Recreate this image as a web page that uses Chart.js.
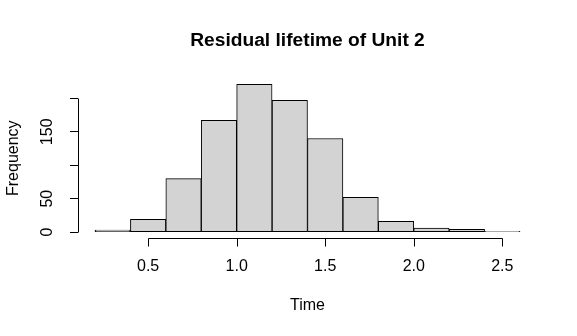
<!DOCTYPE html>
<html>
<head>
<meta charset="utf-8">
<script src="https://cdn.jsdelivr.net/npm/chart.js@4/dist/chart.umd.min.js"></script>
<style>
  html, body { margin: 0; padding: 0; background: #ffffff; }
  #wrap { width: 577px; height: 336px; }
</style>
</head>
<body>
<div id="wrap"><canvas id="c" width="577" height="336"></canvas></div>
<script>
// Histogram data (bin midpoints, bin width 0.2) and counts
const binMids = [0.3, 0.5, 0.7, 0.9, 1.1, 1.3, 1.5, 1.7, 1.9, 2.1, 2.3, 2.5];
const counts  = [3, 19, 80, 167, 221, 197, 140, 52, 16, 6, 4, 1];
const xTicks  = [0.5, 1.0, 1.5, 2.0, 2.5];
const xTickLabels = ['0.5', '1.0', '1.5', '2.0', '2.5'];
const yTicks  = [0, 50, 100, 150, 200];
const yTickLabels = ['0', '50', '', '150', ''];
const titleText = 'Residual lifetime of Unit 2';
const xTitle = 'Time';
const yTitle = 'Frequency';

const FONT = 'Liberation Sans, Arial, sans-serif';

// R-style axes: axis lines only across the tick range, x tick marks below
const rAxes = {
  id: 'rAxes',
  afterDraw(chart) {
    const ctx = chart.ctx;
    const xs = chart.scales.x, ys = chart.scales.y, area = chart.chartArea;
    ctx.save();
    ctx.strokeStyle = '#000000';
    ctx.lineWidth = 1;
    const yb = Math.round(area.bottom) + 0.5;
    ctx.beginPath();
    ctx.moveTo(Math.round(xs.getPixelForValue(xTicks[0])) + 0.5, yb);
    ctx.lineTo(Math.round(xs.getPixelForValue(xTicks[xTicks.length - 1])) + 0.5, yb);
    xs.ticks.forEach(t => {
      const px = Math.round(xs.getPixelForValue(t.value)) + 0.5;
      ctx.moveTo(px, yb);
      ctx.lineTo(px, yb + 8);
    });
    ctx.stroke();
    const xl = Math.round(area.left) + 0.5;
    ctx.beginPath();
    ctx.moveTo(xl, Math.round(ys.getPixelForValue(yTicks[0])) + 0.5);
    ctx.lineTo(xl, Math.round(ys.getPixelForValue(yTicks[yTicks.length - 1])) + 0.5);
    ctx.stroke();
    ctx.restore();
  }
};

new Chart(document.getElementById('c'), {
  type: 'bar',
  data: {
    datasets: [{
      data: binMids.map((m, i) => ({x: m, y: counts[i]})),
      backgroundColor: '#D3D3D3',
      borderColor: '#000000',
      borderWidth: 1,
      borderSkipped: false,
      barPercentage: 1.0,
      categoryPercentage: 1.0,
      grouped: false
    }]
  },
  options: {
    responsive: false,
    animation: false,
    devicePixelRatio: 1,
    layout: { padding: { left: 0, right: 40, top: 0, bottom: 0 } },
    plugins: {
      legend: { display: false },
      tooltip: { enabled: false },
      title: {
        display: true,
        fullSize: false,
        text: titleText,
        color: '#000',
        font: { family: FONT, size: 19.2, weight: 'bold' },
        padding: { top: 29, bottom: 26.4 }
      }
    },
    scales: {
      x: {
        type: 'linear',
        offset: false,
        min: 0.104,
        max: 2.696,
        afterBuildTicks(s) { s.ticks = xTicks.map(v => ({value: v})); },
        afterFit(s) { s.height = 98; },
        ticks: {
          color: '#000',
          font: { family: FONT, size: 16 },
          padding: 11,
          maxRotation: 0,
          autoSkip: false,
          callback: (v) => { const i = xTicks.indexOf(v); return i >= 0 ? xTickLabels[i] : ''; }
        },
        grid: { display: false },
        border: { display: false },
        title: {
          display: true, text: xTitle, color: '#000',
          font: { family: FONT, size: 16 },
          padding: { top: 0, bottom: 21 }
        }
      },
      y: {
        type: 'linear',
        min: -8.84,
        max: 229.84,
        afterBuildTicks(s) { s.ticks = yTicks.map(v => ({value: v})); },
        afterFit(s) { s.width = 78; },
        ticks: {
          color: '#000',
          font: { family: FONT, size: 16 },
          padding: 9,
          minRotation: 90,
          maxRotation: 90,
          crossAlign: 'center',
          autoSkip: false,
          callback: (v) => { const i = yTicks.indexOf(v); return i >= 0 ? yTickLabels[i] : ''; }
        },
        grid: { display: true, drawOnChartArea: false, drawTicks: true, tickLength: 8, color: '#000', lineWidth: 1 },
        border: { display: false },
        title: {
          display: true, text: yTitle, color: '#000',
          font: { family: FONT, size: 16 },
          padding: { top: 4, bottom: 0 }
        }
      }
    }
  },
  plugins: [rAxes]
});
</script>
</body>
</html>
